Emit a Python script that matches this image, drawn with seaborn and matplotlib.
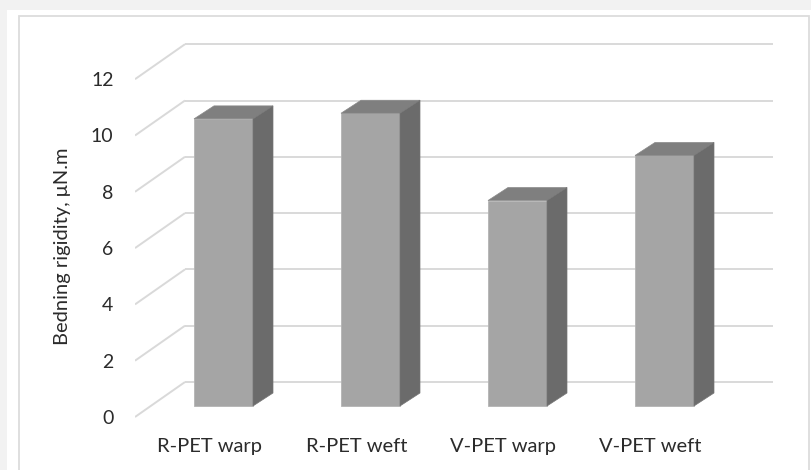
import matplotlib
matplotlib.use("Agg")
import matplotlib.pyplot as plt
from matplotlib.patches import Polygon, Rectangle
from matplotlib.lines import Line2D
import seaborn as sns
import pandas as pd

# Bending rigidity of recycled vs virgin PET fabrics
categories = ["R-PET warp", "R-PET weft", "V-PET warp", "V-PET weft"]
rigidity = [10.2, 10.4, 7.3, 8.9]
y_ticks = [0, 2, 4, 6, 8, 10, 12]
y_label = "Bedning rigidity, \u03bcN.m"

sns.set_theme(style="white")
plt.rcParams["font.family"] = ["Lato", "DejaVu Sans"]

W, H = 811, 470
fig = plt.figure(figsize=(W / 100, H / 100), dpi=100, facecolor="#f2f2f2")

# chart panel and its frame
fig.patches.append(Rectangle((7 / W, 0), 1, 1 - 10 / H, transform=fig.transFigure,
                             facecolor="white", edgecolor="none", zorder=-2))
fig.patches.append(Rectangle((19 / W, -0.05), (809 - 19) / W, 1.05 - 16 / H,
                             transform=fig.transFigure, facecolor="none",
                             edgecolor="#dcdcdc", linewidth=1.3, zorder=-1))

# axes in pixel layout: 147 px per category, 28.15 px per unit
left_px, right_px, bot_px, top_px = 135, 773, 420, 35
ax = fig.add_axes([left_px / W, 1 - bot_px / H, (right_px - left_px) / W,
                   (bot_px - top_px) / H])
ax.set_zorder(1)
ax.set_facecolor("none")

cat_px, unit_px = 147.0, 28.15
x0_px, base_px = 223.5, 406.0
to_x = lambda px: (px - x0_px) / cat_px

df = pd.DataFrame({"sample": categories, "rigidity": rigidity})
sns.barplot(data=df, x="sample", y="rigidity", color="#a5a5a5", saturation=1,
            width=59 / cat_px, edgecolor="#b4b4b4", linewidth=0.6, ax=ax, zorder=3)

ax.set_xlim(to_x(left_px), to_x(right_px))
ax.set_ylim((base_px - bot_px) / unit_px, (base_px - top_px) / unit_px)

# perspective offsets
front_dy = -11 / unit_px          # front edge of floor below bar plane
back_dy = 24 / unit_px            # back wall above bar plane
wall_x = to_x(185)
depth_dx = 20 / cat_px
depth_dy = 13 / unit_px

grid_kw = dict(color="#d9d9d9", linewidth=1.4, zorder=1, solid_capstyle="butt")
for v in y_ticks:
    ax.add_line(Line2D([to_x(left_px), wall_x], [v + front_dy, v + back_dy], **grid_kw))
    ax.add_line(Line2D([wall_x, to_x(right_px)], [v + back_dy, v + back_dy], **grid_kw))

# top and side faces of each bar
for p in list(ax.patches):
    xa, w, h = p.get_x(), p.get_width(), p.get_height()
    xb = xa + w
    top = Polygon([(xa, h), (xa + depth_dx, h + depth_dy), (xb + depth_dx, h + depth_dy),
                   (xb, h)], closed=True, facecolor="#7f7f7f", edgecolor="#8a8a8a",
                  linewidth=0.5, zorder=3)
    side = Polygon([(xb, 0), (xb + depth_dx, depth_dy), (xb + depth_dx, h + depth_dy),
                    (xb, h)], closed=True, facecolor="#6b6b6b", edgecolor="#767676",
                   linewidth=0.5, zorder=3)
    ax.add_patch(top)
    ax.add_patch(side)

for s in ax.spines.values():
    s.set_visible(False)

text_color = "#2b2b2b"
ax.set_yticks([v + front_dy for v in y_ticks], [str(v) for v in y_ticks])
ax.set_xticks([i - 14 / cat_px for i in range(len(categories))], categories)
ax.tick_params(axis="y", length=0, pad=15.5, labelsize=14, labelcolor=text_color)
ax.tick_params(axis="x", length=0, pad=13, labelsize=14.5, labelcolor=text_color)
ax.set_xlabel("")
ax.set_ylabel(y_label, fontsize=14.5, color=text_color)
ax.yaxis.label.set_va("center")
ax.yaxis.set_label_coords((62 - left_px) / (right_px - left_px),
                          (bot_px - 246) / (bot_px - top_px))

fig.savefig("out.png", dpi=100, facecolor=fig.get_facecolor())
